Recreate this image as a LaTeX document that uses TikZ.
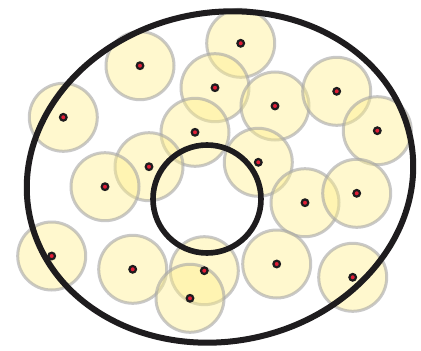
\documentclass[tikz,border=0pt]{standalone}
\usetikzlibrary{calc}
\definecolor{discfill}{RGB}{255,240,140}
\definecolor{discedge}{RGB}{165,165,165}
\definecolor{dotred}{RGB}{225,30,55}
\definecolor{ringblack}{RGB}{30,28,30}
\tikzset{
  disc/.style={fill=discfill, fill opacity=0.42, draw=discedge, draw opacity=0.6, line width=3pt},
  centerdot/.style={circle, inner sep=0pt, minimum size=6.6pt, fill=dotred, draw=ringblack, line width=2.2pt},
  boundary/.style={draw=ringblack, line width=6pt},
  innerring/.style={draw=ringblack, line width=5.6pt}
}
\begin{document}
\begin{tikzpicture}[x=1pt,y=-1pt]
\useasboundingbox (0,0) rectangle (421,351);
\fill[white] (0,0) rectangle (421,351);
% disc centres
\foreach \n/\px/\py in {
  a/240.7/43.3, b/140/65.7, c/215/87.7, d/275/106, e/336.7/91.3,
  f/377.3/130.7, g/63.3/117.3, h/195/132.3, i/149/166.7, j/258.3/162.3,
  k/105/186.7, l/305/202.7, m/356.7/193.3, n/51.7/256, o/132.7/269.3,
  p/204.3/270.7, q/190/298.3, r/276.7/264, s/352.7/277.3}{
  \coordinate (\n) at (\px,\py);
}
\foreach \n in {a,b,c,d,e,f,g,h,i,j,k,l,m,n,o,p,q,r,s}{
  \path[disc] (\n) circle[radius=34];
}
% outer boundary and inner ring
\coordinate (oc) at (220,177);
\coordinate (ic) at (207,199);
\draw[boundary, rotate around={11.4:(oc)}] (oc) ellipse[x radius=194.3, y radius=164.4];
\draw[innerring] (ic) circle[radius=54];
% centre dots
\foreach \n in {a,b,c,d,e,f,g,h,i,j,k,l,m,n,o,p,q,r,s}{
  \node[centerdot] (dot\n) at (\n) {};
}
\end{tikzpicture}
\end{document}
